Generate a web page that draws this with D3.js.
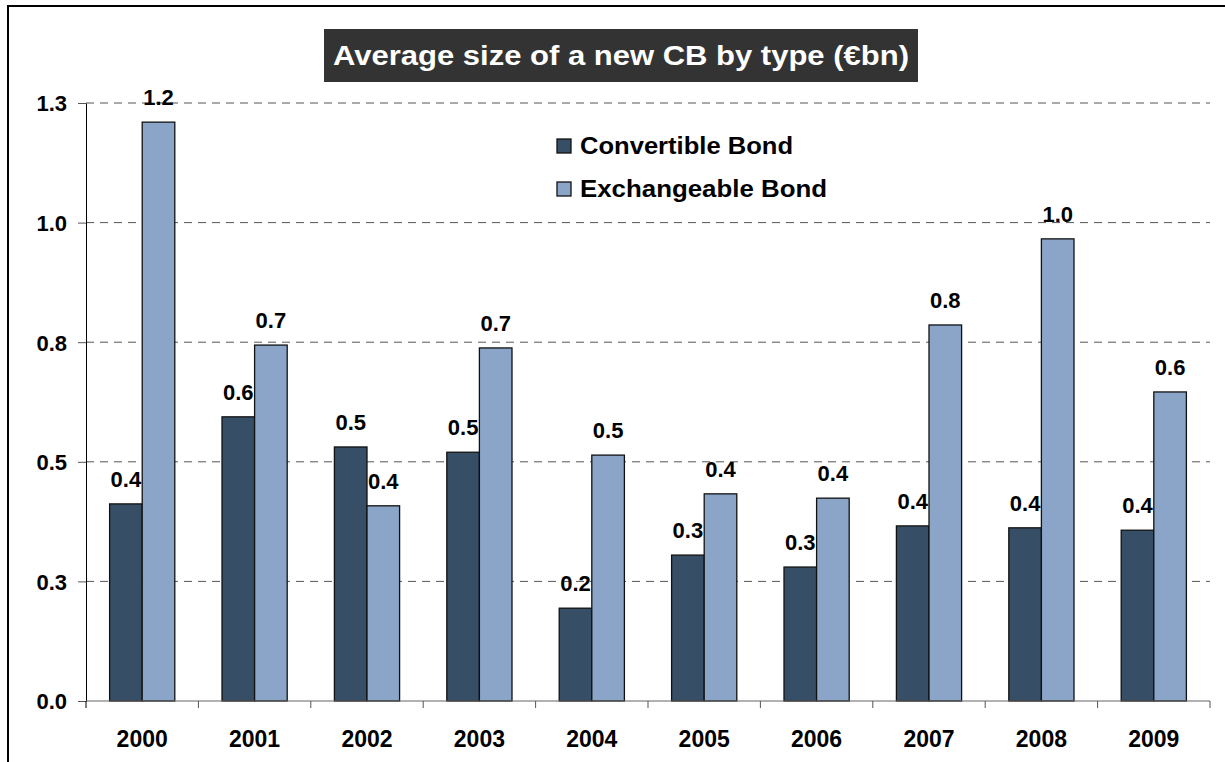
<!DOCTYPE html>
<html>
<head>
<meta charset="utf-8">
<script src="https://cdn.jsdelivr.net/npm/d3@7"></script>
<style>
  html, body { margin: 0; padding: 0; background: #fff; }
  svg { display: block; font-family: "Liberation Sans", Arial, sans-serif; }
</style>
</head>
<body>
<svg id="chart" width="1225" height="762"></svg>
<script>
// Average size of a new convertible / exchangeable bond issue, €bn
const years = ["2000", "2001", "2002", "2003", "2004", "2005", "2006", "2007", "2008", "2009"];
const convertible = [0.412, 0.594, 0.531, 0.520, 0.194, 0.305, 0.280, 0.366, 0.362, 0.357];
const exchangeable = [1.210, 0.744, 0.408, 0.738, 0.514, 0.433, 0.424, 0.786, 0.966, 0.646];
const seriesNames = ["Convertible Bond", "Exchangeable Bond"];
const seriesColors = ["#374f66", "#8aa5c8"];
const yTicks = [0, 0.25, 0.5, 0.75, 1.0, 1.25];
const yTickLabels = ["0.0", "0.3", "0.5", "0.8", "1.0", "1.3"];

const svg = d3.select("#chart");
const margin = { left: 86, right: 1210, top: 103, bottom: 701 };

// Outer frame (top and left edges visible)
svg.append("path")
  .attr("d", "M8,762 V6 H1225")
  .attr("fill", "none").attr("stroke", "#000").attr("stroke-width", 2);

// Title box
const titleG = svg.append("g");
titleG.append("rect")
  .attr("x", 324).attr("y", 29).attr("width", 594).attr("height", 53)
  .attr("fill", "#333333");
titleG.append("text")
  .attr("x", 621).attr("y", 65)
  .attr("text-anchor", "middle")
  .attr("fill", "#fff").attr("font-weight", "bold").attr("font-size", 28)
  .attr("textLength", 576).attr("lengthAdjust", "spacingAndGlyphs")
  .text("Average size of a new CB by type (€bn)");

const x = d3.scaleBand().domain(years).range([margin.left, margin.right]);
const y = d3.scaleLinear().domain([0, 1.25]).range([margin.bottom, margin.top]);

// Dashed gridlines
svg.append("g").selectAll("line")
  .data(yTicks.filter(d => d > 0))
  .join("line")
  .attr("x1", margin.left).attr("x2", margin.right)
  .attr("y1", d => y(d)).attr("y2", d => y(d))
  .attr("stroke", "#555").attr("stroke-width", 1)
  .attr("stroke-dasharray", "8,6");

// Y axis
const yAxis = d3.axisLeft(y)
  .tickValues(yTicks)
  .tickFormat((d, i) => yTickLabels[i])
  .tickSize(8).tickSizeOuter(0);
const yG = svg.append("g").attr("transform", `translate(${margin.left},0)`).call(yAxis);
yG.attr("font-size", 22).attr("font-family", "Liberation Sans, Arial, sans-serif");
yG.select(".domain").attr("stroke", "#000");
yG.selectAll(".tick line").attr("stroke", "#555");
yG.selectAll(".tick text")
  .attr("x", -19).attr("dy", "0.36em").attr("font-weight", "bold").attr("fill", "#000");

// Bar geometry
const barW = x.bandwidth() * 0.29;
const groupOffset = x.bandwidth() / 2 - barW;
const fmt = d3.format(".1f");
const rows = [convertible, exchangeable];

// Value labels (drawn beneath the bars)
const labelG = svg.append("g");
rows.forEach((vals, s) => {
  labelG.selectAll(null)
    .data(vals)
    .join("text")
    .attr("x", (d, i) => x(years[i]) + groupOffset + s * barW + barW / 2)
    .attr("y", d => y(d) - 17)
    .attr("text-anchor", "middle")
    .attr("font-size", 22).attr("font-weight", "bold").attr("fill", "#000")
    .text(d => fmt(d));
});

// Bars
rows.forEach((vals, s) => {
  svg.append("g").selectAll("rect")
    .data(vals)
    .join("rect")
    .attr("x", (d, i) => x(years[i]) + groupOffset + s * barW)
    .attr("y", d => y(d))
    .attr("width", barW)
    .attr("height", d => y(0) - y(d))
    .attr("fill", seriesColors[s])
    .attr("stroke", "#111").attr("stroke-width", 1.3);
});

// X axis with ticks between categories
const xG = svg.append("g").attr("transform", `translate(0,${margin.bottom})`);
xG.append("line")
  .attr("x1", margin.left).attr("x2", margin.right)
  .attr("stroke", "#666").attr("stroke-width", 1.2);
xG.selectAll("line.tk")
  .data(years.concat(["end"]))
  .join("line").attr("class", "tk")
  .attr("x1", (d, i) => i < years.length ? x(d) : margin.right)
  .attr("x2", (d, i) => i < years.length ? x(d) : margin.right)
  .attr("y1", 0).attr("y2", 7)
  .attr("stroke", (d, i) => i === 0 ? "#000" : "#555");
xG.selectAll("text")
  .data(years)
  .join("text")
  .attr("x", d => x(d) + x.bandwidth() / 2)
  .attr("y", 46)
  .attr("text-anchor", "middle")
  .attr("font-size", 23).attr("font-weight", "bold").attr("fill", "#000")
  .text(d => d);

// Legend
const legend = svg.append("g");
const legendWidths = [213, 247];
seriesNames.forEach((name, s) => {
  const ly = 146 + s * 43;
  legend.append("rect")
    .attr("x", 557).attr("y", ly - 7).attr("width", 14).attr("height", 14)
    .attr("fill", seriesColors[s]).attr("stroke", "#111").attr("stroke-width", 1.3);
  legend.append("text")
    .attr("x", 580).attr("y", ly + 8)
    .attr("font-size", 24).attr("font-weight", "bold").attr("fill", "#000")
    .attr("textLength", legendWidths[s]).attr("lengthAdjust", "spacingAndGlyphs")
    .text(name);
});
</script>
</body>
</html>
